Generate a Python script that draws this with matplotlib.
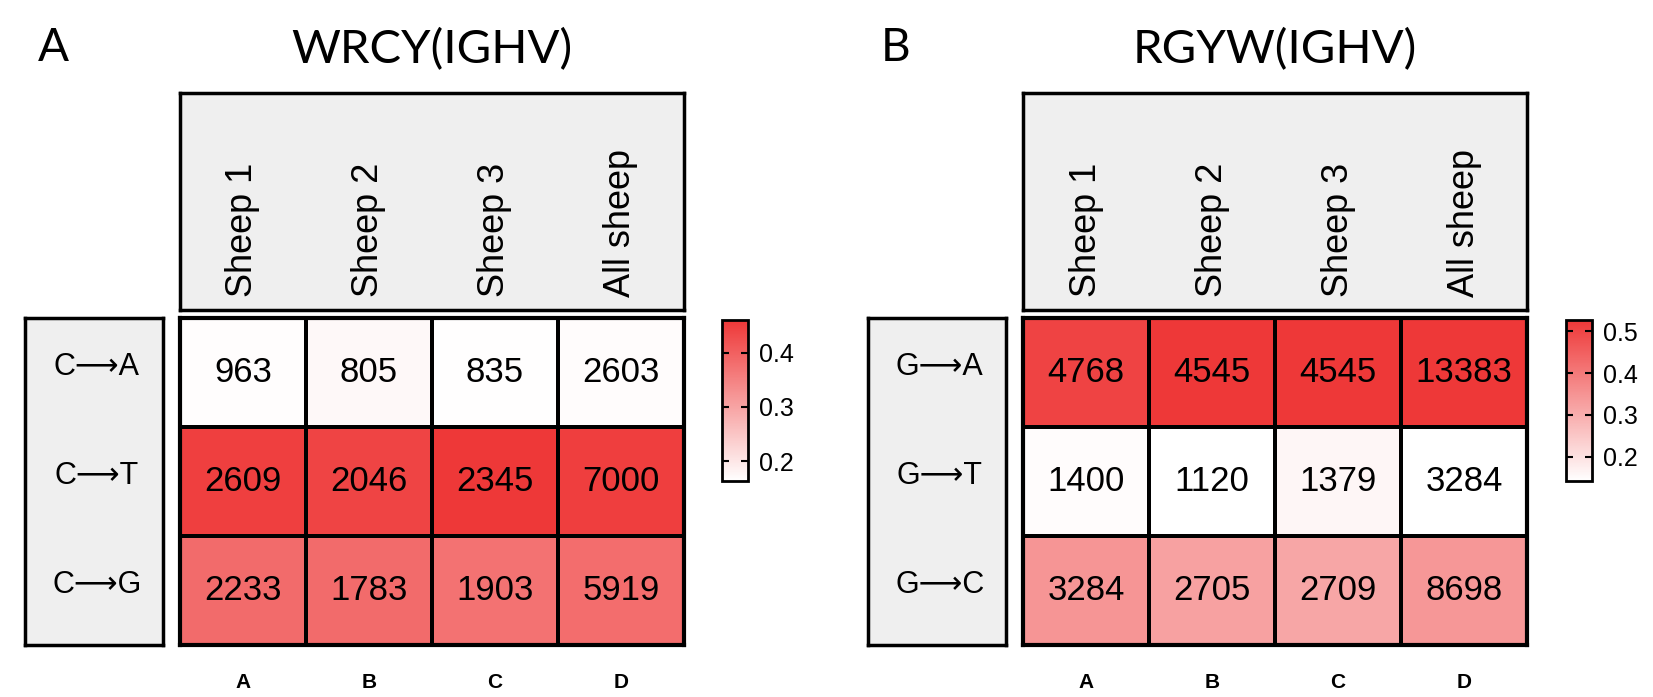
import matplotlib
matplotlib.use('Agg')

import numpy as np
import matplotlib.pyplot as plt
from matplotlib.colors import LinearSegmentedColormap

# data
columns = ["Sheep 1", "Sheep 2", "Sheep 3", "All sheep"]
col_letters = ["A", "B", "C", "D"]

rows_a = ["C\u27f6A", "C\u27f6T", "C\u27f6G"]
counts_a = [[963, 805, 835, 2603],
            [2609, 2046, 2345, 7000],
            [2233, 1783, 1903, 5919]]
cbar_lim_a = (0.163, 0.461)
cbar_ticks_a = [0.2, 0.3, 0.4]

rows_b = ["G\u27f6A", "G\u27f6T", "G\u27f6C"]
counts_b = [[4768, 4545, 4545, 13383],
            [1400, 1120, 1379, 3284],
            [3284, 2705, 2709, 8698]]
cbar_lim_b = (0.142, 0.527)
cbar_ticks_b = [0.2, 0.3, 0.4, 0.5]

W, H = 1653, 697
fig = plt.figure(figsize=(W / 100, H / 100), dpi=100)

cmap = LinearSegmentedColormap.from_list("wr", ["#FFFFFF", "#EE3838"])
box_gray = "#EFEFEF"
arial = ["Liberation Sans", "DejaVu Sans"]
title_font = ["Lato", "DejaVu Sans"]


def px_axes(x0, y0, x1, y1):
    # pixel box, origin top-left
    return fig.add_axes([x0 / W, 1 - y1 / H, (x1 - x0) / W, (y1 - y0) / H])


def panel(x_off, letter, title, rows, counts, lim, ticks, cbar_x):
    counts = np.array(counts, dtype=float)
    frac = counts / counts.sum(axis=0)

    hx0, hx1 = 180 + x_off, 684 + x_off

    # header box with column names
    hax = px_axes(hx0, 93, hx1, 310)
    hax.set_facecolor(box_gray)
    hax.set_xlim(0, 4)
    hax.set_ylim(0, 1)
    hax.set_xticks([])
    hax.set_yticks([])
    for s in hax.spines.values():
        s.set_linewidth(2.5)
    for i, c in enumerate(columns):
        hax.text(i + 0.5, 0.06, c, rotation=90, ha='center', va='bottom',
                 fontsize=26, family=arial)

    # heatmap
    ax = px_axes(hx0, 318, hx1, 645)
    mesh = ax.pcolormesh(frac, cmap=cmap, vmin=lim[0], vmax=lim[1],
                         edgecolors='black', linewidth=1.5)
    ax.set_xlim(0, 4)
    ax.set_ylim(3, 0)
    for r in range(3):
        for c in range(4):
            ax.text(c + 0.5, r + 0.5, f"{int(counts[r, c])}", ha='center',
                    va='center', fontsize=25, family=arial)
    ax.set_xticks(np.arange(4) + 0.5)
    ax.set_xticklabels(col_letters, fontweight='bold', family=arial)
    ax.tick_params(axis='x', length=0, pad=20, labelsize=15)
    ax.set_yticks([])
    for s in ax.spines.values():
        s.set_linewidth(3)

    # row label box
    rx0 = 25 + x_off
    rax = px_axes(rx0, 318, rx0 + 138, 645)
    rax.set_facecolor(box_gray)
    rax.set_xlim(0, 1)
    rax.set_ylim(3, 0)
    rax.set_xticks([])
    rax.set_yticks([])
    for s in rax.spines.values():
        s.set_linewidth(2.5)
    for r, lab in enumerate(rows):
        rax.text(0.52, r + 0.45, lab, ha='center', va='center', fontsize=22,
                 family=arial)

    # colorbar
    cax = px_axes(cbar_x, 320, cbar_x + 26, 481)
    cb = fig.colorbar(mesh, cax=cax, ticks=ticks)
    cb.outline.set_linewidth(2)
    cb.ax.set_yticklabels([f"{t:.1f}" for t in ticks], family=arial)
    cax.tick_params(direction='in', left=True, right=True, length=5, width=1.5,
                    labelsize=18, pad=8)

    # panel letter and title
    fig.text((38 + x_off) / W, 1 - 48 / H, letter, fontsize=33, family=title_font,
             ha='left', va='center')
    fig.text((hx0 + hx1) / 2 / W, 1 - 50 / H, title, fontsize=34,
             family=title_font, ha='center', va='center')


panel(0, "A", "WRCY(IGHV)", rows_a, counts_a, cbar_lim_a, cbar_ticks_a, 722)
panel(843, "B", "RGYW(IGHV)", rows_b, counts_b, cbar_lim_b, cbar_ticks_b, 1566)

fig.savefig("out.png", dpi=100)
